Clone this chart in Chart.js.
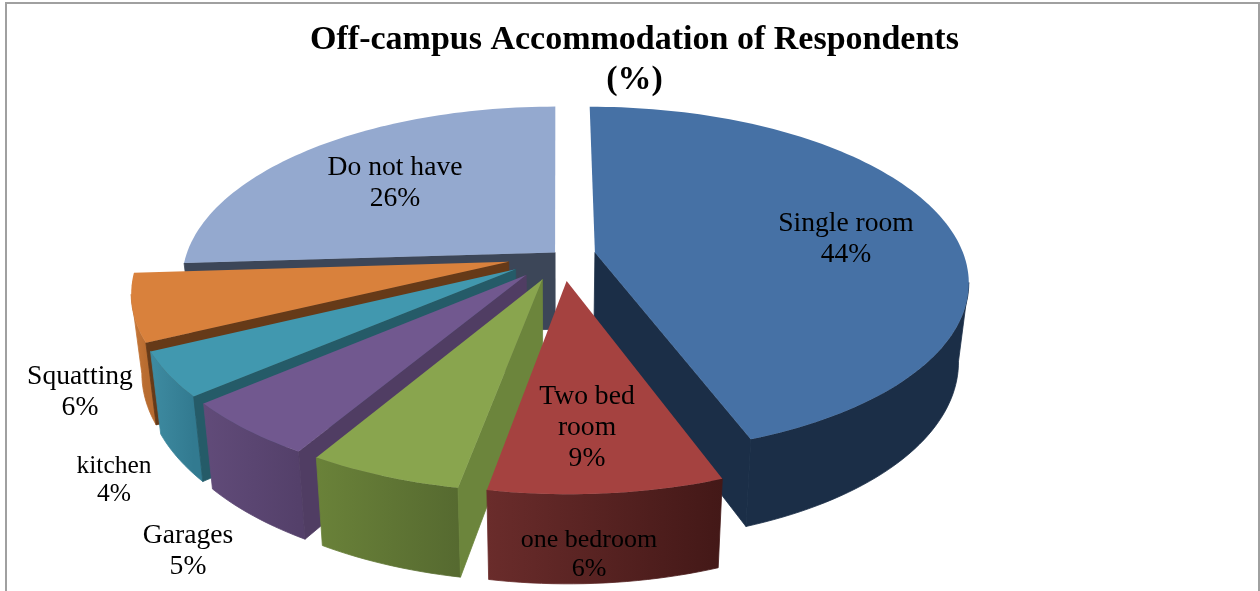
<!DOCTYPE html>
<html>
<head>
<meta charset="utf-8">
<title>Off-campus Accommodation of Respondents</title>
<script src="https://cdn.jsdelivr.net/npm/chart.js@4/dist/chart.umd.js"></script>
<style>
html,body{margin:0;padding:0;background:#fff;overflow:hidden}
canvas{display:block}
</style>
</head>
<body>
<canvas id="chart" width="1260" height="591"></canvas>
<script>
const categories=["Single room","Two bed room","one bedroom","Garages","kitchen","Squatting","Do not have"];
const shares=[44.4,8.5,5.6,5.2,4.1,6.2,26.0];
const titleLines=["Off-campus Accommodation of Respondents","(%)"];

const topColors=["#4671A5","#A54240","#89A54E","#71588F","#4198AF","#D9813C","#94A9CF"];
const cutColors=["#1B2E47","#4A1C1A","#6C853C","#503D63","#255B68","#663A18","#3C4658"];
const rimColors=[["#1B2E47","#1B2E47"],["#6A2C2B","#431817"],["#6A8239","#566A30"],["#614B79","#54406A"],["#3E8BA1","#327A90"],["#C9793A","#B86C30"],["#7A8CAD","#7A8CAD"]];
// how far each slice is pulled out, as a part of the radius
const explosion=[.0914,.148,.148,.148,.148,.148,.025];

// label lines, centre x and first line y, one entry per slice
const labelSpots=[
  {lines:["Single room"],x:846,y:224,size:27.6},
  {lines:["Two bed","room"],x:587,y:397,size:27.6},
  {lines:["one bedroom"],x:589,y:540,size:26},
  {lines:["Garages"],x:188,y:536,size:27.6},
  {lines:["kitchen"],x:114,y:466,size:25.5},
  {lines:["Squatting"],x:80,y:377,size:27.6},
  {lines:["Do not have"],x:395,y:168,size:27.6}
];

// tilted view of the flat pie
const view={cx:561.8,cy:255.3,rx:369,ry:170,persp:.16,vanishX:557,depth:77,depthGrow:11,taper:.025};

function project(u,v){
  const s=1/(1-view.persp*v);
  return {x:view.vanishX+(view.cx-view.vanishX+view.rx*u)*s,y:view.cy+view.ry*v*s};
}
function drop(p,v){
  return {x:p.x+(view.vanishX-p.x)*view.taper,y:p.y+view.depth+view.depthGrow*v};
}
function poly(ctx,pts,fill,seal){
  ctx.beginPath();
  pts.forEach((p,i)=>i?ctx.lineTo(p.x,p.y):ctx.moveTo(p.x,p.y));
  ctx.closePath();
  ctx.fillStyle=fill;
  ctx.fill();
  if(seal){
    ctx.strokeStyle=fill;
    ctx.lineWidth=.8;
    ctx.stroke();
  }
}

function drawSlice(ctx,arc,i){
  const a0=arc.startAngle,a1=arc.endAngle,mid=(a0+a1)/2;
  const ou=explosion[i]*Math.cos(mid),ov=explosion[i]*Math.sin(mid);
  const tip=project(ou,ov),tipLow=drop(tip,ov);
  const top=[],low=[];
  const steps=Math.max(8,Math.ceil((a1-a0)*40));
  for(let k=0;k<=steps;k++){
    const a=a0+(a1-a0)*k/steps;
    const u=ou+Math.cos(a),v=ov+Math.sin(a);
    const p=project(u,v);
    top.push(p);
    low.push(drop(p,v));
  }
  // rim first (only the part running leftwards faces us), then cut faces, then the top
  let first=-1,last=-1;
  for(let k=0;k<steps;k++){
    if(top[k+1].x<top[k].x){
      if(first<0) first=k;
      last=k+1;
    }
  }
  if(first>=0){
    const upper=top.slice(first,last+1),lower=low.slice(first,last+1);
    const xs=top.map(p=>p.x);
    const grad=ctx.createLinearGradient(Math.min(...xs),0,Math.max(...xs),0);
    grad.addColorStop(0,rimColors[i][0]);
    grad.addColorStop(1,rimColors[i][1]);
    poly(ctx,upper.concat(lower.reverse()),grad,true);
  }
  if(top[0].x-tip.x<-10) poly(ctx,[tip,top[0],low[0],tipLow],cutColors[i],true);
  if(tip.x-top[steps].x<-10) poly(ctx,[tip,top[steps],low[steps],tipLow],cutColors[i],true);
  poly(ctx,[tip].concat(top),arc.options.backgroundColor);
}

const pie3d={
  id:"pie3d",
  beforeDraw(chart){
    const ctx=chart.ctx;
    ctx.save();
    ctx.strokeStyle="#a0a0a0";
    ctx.lineWidth=2;
    ctx.beginPath();
    ctx.moveTo(6,591);ctx.lineTo(6,3);ctx.lineTo(1259,3);ctx.lineTo(1259,591);
    ctx.stroke();
    ctx.restore();
  },
  beforeDatasetDraw(chart){
    const ctx=chart.ctx,arcs=chart.getDatasetMeta(0).data;
    // back to front
    const order=arcs.map((arc,i)=>i).sort((a,b)=>Math.sin((arcs[a].startAngle+arcs[a].endAngle)/2)-Math.sin((arcs[b].startAngle+arcs[b].endAngle)/2));
    ctx.save();
    order.forEach(i=>drawSlice(ctx,arcs[i],i));
    ctx.restore();
    return false;
  },
  afterDatasetsDraw(chart){
    const ctx=chart.ctx;
    ctx.save();
    ctx.fillStyle="#000";
    ctx.textAlign="center";
    ctx.textBaseline="middle";
    labelSpots.forEach((spot,i)=>{
      ctx.font=spot.size+'px "Liberation Serif"';
      const gap=spot.size*1.12;
      spot.lines.concat([Math.round(shares[i])+"%"]).forEach((line,k)=>ctx.fillText(line,spot.x,spot.y+k*gap));
    });
    ctx.restore();
  }
};

new Chart(document.getElementById("chart"),{
  type:"pie",
  data:{labels:categories,datasets:[{data:shares,backgroundColor:topColors,borderWidth:0}]},
  options:{
    responsive:false,
    animation:false,
    layout:{padding:{left:9}},
    plugins:{
      legend:{display:false},
      tooltip:{enabled:false},
      title:{
        display:true,
        text:titleLines,
        color:"#000",
        font:{family:'"Liberation Serif"',size:34,weight:"bold",lineHeight:1.18},
        padding:{top:20,bottom:6}
      }
    }
  },
  plugins:[pie3d]
});
</script>
</body>
</html>
